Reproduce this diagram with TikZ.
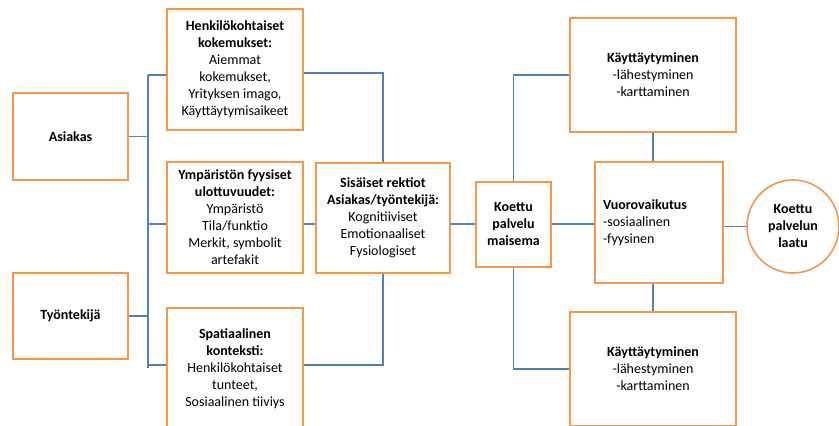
\documentclass[tikz,border=0pt]{standalone}
\usepackage{fontspec}
\setmainfont{Carlito}
\usetikzlibrary{shapes.geometric}
\definecolor{boxorange}{RGB}{247,150,70}
\definecolor{lineblue}{RGB}{79,129,189}
\begin{document}
\begin{tikzpicture}[x=1pt,y=-1pt,
  box/.style={draw=boxorange, line width=1.6pt, fill=white, rectangle, inner sep=0pt, align=center, font=\fontsize{14}{17}\selectfont},
  conn/.style={draw=lineblue, line width=1.5pt}]
\useasboundingbox (0,0) rectangle (839,426);

% left column
\node[box, minimum width=115pt, minimum height=87pt] (asiakas) at (70.5,136.5) {\textbf{Asiakas}};
\node[box, minimum width=115pt, minimum height=86pt] (tyontekija) at (70.5,316) {\textbf{Työntekijä}};

% second column
\node[box, minimum width=136pt, minimum height=121pt] (henk) at (235,69.5)
  {\textbf{Henkilökohtaiset}\\ \textbf{kokemukset:}\\ Aiemmat\\ kokemukset,\\ Yrityksen imago,\\ Käyttäytymisaikeet};
\node[box, minimum width=136pt, minimum height=111pt] (ymp) at (235,217.5)
  {\textbf{Ympäristön fyysiset}\\ \textbf{ulottuvuudet:}\\ Ympäristö\\ Tila/funktio\\ Merkit, symbolit\\ artefakit};
\node[box, minimum width=136pt, minimum height=122pt] (spat) at (235,369)
  {\textbf{Spatiaalinen}\\ \textbf{konteksti:}\\ Henkilökohtaiset\\ tunteet,\\ Sosiaalinen tiiviys};

% middle
\node[box, minimum width=134pt, minimum height=110pt] (sis) at (383,218)
  {\textbf{Sisäiset rektiot}\\ \textbf{Asiakas/työntekijä:}\\ Kognitiiviset\\ Emotionaaliset\\ Fysiologiset};
\node[box, minimum width=75pt, minimum height=85pt] (koe) at (513.5,224.5)
  {\textbf{Koettu}\\ \textbf{palvelu}\\ \textbf{maisema}};

% right
\node[box, minimum width=166pt, minimum height=114pt] (kt) at (653,75)
  {\textbf{Käyttäytyminen}\\ -lähestyminen\\ -karttaminen};
\node[box, minimum width=128pt, minimum height=121pt, text width=112pt, align=left] (vuo) at (659,222.5)
  {\textbf{Vuorovaikutus}\\ -sosiaalinen\\ -fyysinen};
\node[box, minimum width=166pt, minimum height=114pt] (kb) at (653,369)
  {\textbf{Käyttäytyminen}\\ -lähestyminen\\ -karttaminen};
\node[box, ellipse, minimum width=92pt, minimum height=93pt] (ell) at (793,226.5)
  {\textbf{Koettu}\\ \textbf{palvelun}\\ \textbf{laatu}};

% helper coordinates
\coordinate (b1) at (148,75);
\coordinate (b2) at (148,224);
\coordinate (b3) at (148,365);
\coordinate (b4) at (148,368);
\coordinate (hy) at (0,73);
\coordinate (my) at (0,224);
\coordinate (sy) at (0,365);

% connectors left
\draw[conn] (b1) -- (b4);
\draw[conn] (asiakas.east) -- (asiakas.east -| b1);
\draw[conn] (tyontekija.east) -- (tyontekija.east -| b1);
\draw[conn] (b1) -- (henk.west |- b1);
\draw[conn] (b2) -- (ymp.west |- b2);
\draw[conn] (b3) -- (spat.west |- b3);

% to Sisäiset
\draw[conn] (henk.east |- hy) -| (sis.north);
\draw[conn] (ymp.east |- my) -- (sis.west |- my);
\draw[conn] (spat.east |- sy) -| (sis.south);

% to Koettu
\draw[conn] (sis.east |- my) -- (koe.west |- my);
\draw[conn] (koe.north) |- (kt.west);
\draw[conn] (koe.south) |- (kb.west);
\draw[conn] (koe.east |- my) -- (vuo.west |- my);

% right column
\draw[conn] (kt.south) -- (kt.south |- vuo.north);
\draw[conn] (kt.south |- vuo.south) -- (kb.north);
\draw[conn] (vuo.east |- ell.west) -- (ell.west);
\end{tikzpicture}
\end{document}
